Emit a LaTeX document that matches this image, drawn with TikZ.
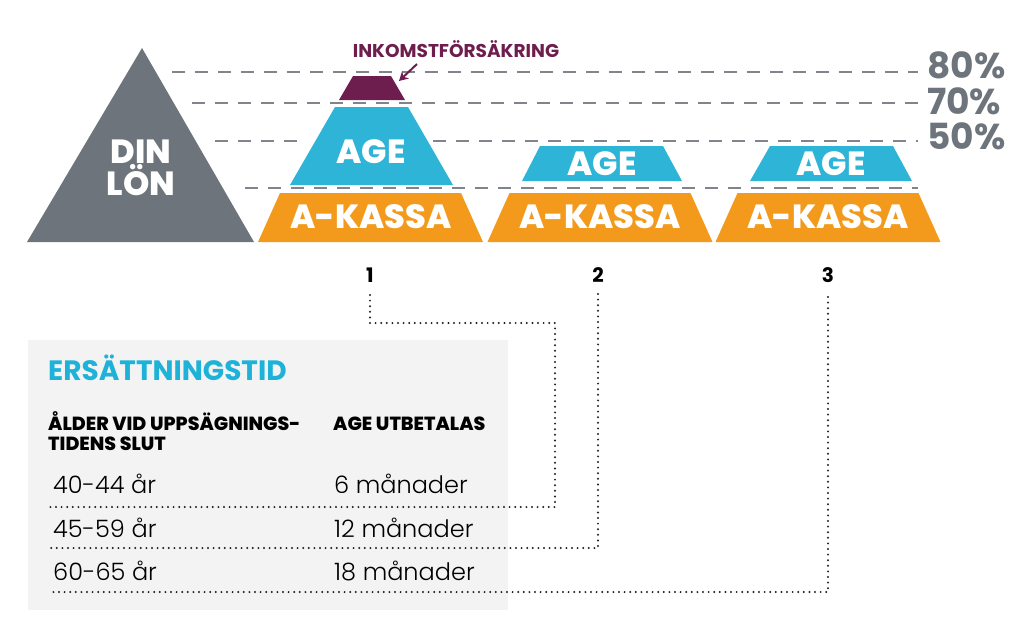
\documentclass[tikz,border=0pt]{standalone}
\usepackage{fontspec}
\setmainfont{Poppins}
\IfFontExistsTF{Poppins Light}{\newfontfamily\lightfont{Poppins Light}}{\newfontfamily\lightfont{Poppins}}
\IfFontExistsTF{Poppins ExtraBold}{\newfontfamily\heavyfont{Poppins ExtraBold}}{\newfontfamily\heavyfont{Poppins}[UprightFont=*-Bold]}
\usetikzlibrary{arrows.meta}
\definecolor{tri}{HTML}{6D747C}
\definecolor{ageblue}{HTML}{2DB4D6}
\definecolor{kassa}{HTML}{F39A1C}
\definecolor{inkom}{HTML}{6E1E4E}
\definecolor{dashgrey}{HTML}{80858B}
\definecolor{tablebg}{HTML}{F3F3F3}
\definecolor{headblue}{HTML}{1EB2D8}
\begin{document}
\begin{tikzpicture}[x=1pt,y=-1pt,
  dashline/.style={draw=dashgrey, line width=1.8pt, dash pattern=on 13pt off 10pt},
  dotline/.style={draw=black!88, line width=2.2pt, line cap=round, dash pattern=on 0pt off 5.6pt},
  shapetxt/.style={text=white, font=\heavyfont\fontsize{33.5}{32}\selectfont, inner sep=0pt},
  pct/.style={text=tri, font=\bfseries\fontsize{36}{36}\selectfont, anchor=west, inner sep=0pt},
  num/.style={font=\bfseries\fontsize{20}{20}\selectfont, inner sep=0pt},
  rowtxt/.style={font=\lightfont\fontsize{24}{24}\selectfont, anchor=base west, inner sep=0pt},
  headtxt/.style={font=\heavyfont\fontsize{19}{20}\selectfont, anchor=base west, inner sep=0pt},
]
\useasboundingbox (0,0) rectangle (1024,627);

% guide lines
\draw[dashline] (172,72) -- (918,72);
\draw[dashline] (192,103) -- (918,103);
\draw[dashline] (215,141) -- (302,141);
\draw[dashline] (433,141) -- (918,141);
\draw[dashline] (245,188) -- (918,188);

% percentages
\node[pct] (p80) at (927,65.5) {80\%};
\node[pct] (p70) at (927,101) {70\%};
\node[pct] (p50) at (927,136.5) {50\%};

% salary triangle
\fill[tri] (142,48) -- (254,242) -- (27,242) -- cycle;
\node[shapetxt, align=center] (din) at (141,168) {DIN\\LÖN};

% pyramid 1
\fill[inkom] (353,76) -- (391,76) -- (405,100) -- (339,100) -- cycle;
\fill[ageblue] (335,107) -- (408,107) -- (453,185) -- (290,185) -- cycle;
\fill[kassa] (280,193) -- (461,193) -- (483,242) -- (258,242) -- cycle;
\node[shapetxt] (age1) at (371,152) {AGE};
\node[shapetxt] (ak1) at (371,217) {A-KASSA};

% pyramid 2
\fill[ageblue] (540,146) -- (663,146) -- (682,181) -- (522,181) -- cycle;
\fill[kassa] (509.5,193) -- (690.5,193) -- (712.5,242) -- (487.5,242) -- cycle;
\node[shapetxt] (age2) at (602,164) {AGE};
\node[shapetxt] (ak2) at (600,217) {A-KASSA};

% pyramid 3
\fill[ageblue] (770,146) -- (893,146) -- (912,181) -- (750,181) -- cycle;
\fill[kassa] (737.5,193) -- (918.5,193) -- (940.5,242) -- (715.5,242) -- cycle;
\node[shapetxt] (age3) at (831,164) {AGE};
\node[shapetxt] (ak3) at (828,217) {A-KASSA};

% income insurance label
\node[text=inkom, font=\bfseries\fontsize{18.5}{18.5}\selectfont, inner sep=0pt] (ink) at (456,49.5) {INKOMSTFÖRSÄKRING};
\coordinate (arrS) at (417,64);
\coordinate (arrE) at (399,81);
\draw[inkom, line width=2pt, -{Stealth[length=9pt,width=10pt]}] (arrS) -- (arrE);

% numbers
\node[num] (n1) at (370,275) {1};
\node[num] (n2) at (598,275) {2};
\node[num] (n3) at (828,275) {3};

% table
\fill[tablebg] (28,340) rectangle (508,610);
\node[text=headblue, font=\bfseries\fontsize{28}{28}\selectfont, anchor=base west, inner sep=0pt] (title) at (48,380) {ERSÄTTNINGSTID};
\node[headtxt] (h1a) at (48,430) {ÅLDER VID UPPSÄGNINGS-};
\node[headtxt] (h1b) at (48,450) {TIDENS SLUT};
\node[headtxt] (h2) at (333,430) {AGE UTBETALAS};
\node[rowtxt] (r1a) at (53,493) {40-44 år};
\node[rowtxt] (r1b) at (334,493) {6 månader};
\node[rowtxt] (r2a) at (53,537) {45-59 år};
\node[rowtxt] (r2b) at (334,537) {12 månader};
\node[rowtxt] (r3a) at (53,580) {60-65 år};
\node[rowtxt] (r3b) at (334,580) {18 månader};

% connectors
\coordinate (e1) at (50,507);
\coordinate (e2) at (50,548);
\coordinate (e3) at (50,592);
\coordinate (k1) at (555,323);
\draw[dotline] (370,295) |- (k1) |- (e1);
\draw[dotline] (598,294) |- (e2);
\draw[dotline] (828,297) |- (e3);
\end{tikzpicture}
\end{document}
